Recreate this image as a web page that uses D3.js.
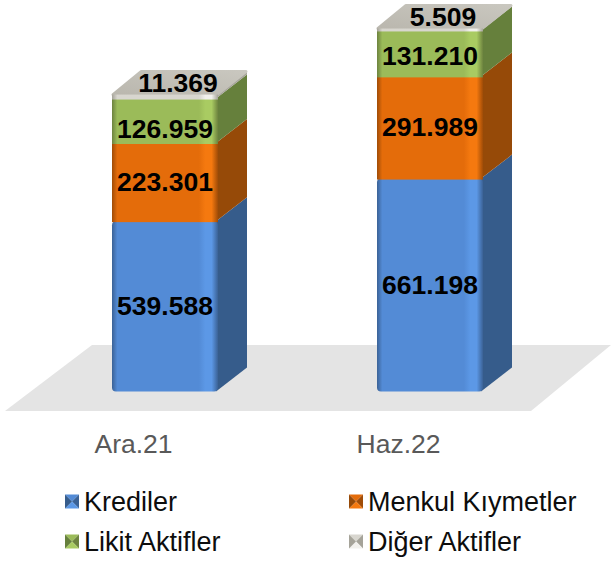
<!DOCTYPE html>
<html>
<head>
<meta charset="utf-8">
<script src="https://cdnjs.cloudflare.com/ajax/libs/d3/7.8.5/d3.min.js"></script>
<style>
  html, body { margin: 0; padding: 0; background: #fff; }
  text { font-family: "Liberation Sans", Arial, sans-serif; }
</style>
</head>
<body>
<svg id="chart" width="611" height="563" style="display:block"></svg>
<script>
const categories = ["Ara.21", "Haz.22"];
const seriesNames = ["Krediler", "Menkul Kıymetler", "Likit Aktifler", "Diğer Aktifler"];
const krediler = [539588, 661198];
const menkul = [223301, 291989];
const likit = [126959, 131210];
const diger = [11369, 5509];
const seriesValues = [krediler, menkul, likit, diger];
const valueLabels = [
  ["539.588", "661.198"],
  ["223.301", "291.989"],
  ["126.959", "131.210"],
  ["11.369", "5.509"]
];
const legendRows = [[0, 1], [2, 3]];

// front, highlight, dark edge, side
const colors = [
  { front: "#538bd6", light: "#5c98e6", edge: "#3b6296", side: "#365c8b" },
  { front: "#e46c0a", light: "#f5790f", edge: "#a04c07", side: "#964a08" },
  { front: "#9bbb59", light: "#a9cb62", edge: "#6d833f", side: "#66803c" },
  { front: "#d8d6cf", light: "#f2f1ed", edge: "#a5a399", side: "#a5a399" }
];

const depthX = 29, depthY = 24;
const barBottom = 391.5;

const svg = d3.select("#chart");
const defs = svg.append("defs");

const x = d3.scaleBand().domain(categories).range([112, 483]).paddingInner(0.6);
const y = d3.scaleLinear().domain([0, 1000000]).range([410, 60]);

colors.forEach((c, i) => {
  const g = defs.append("linearGradient").attr("id", "front" + i);
  [[0, c.edge], [0.05, c.front], [0.82, c.front], [0.88, c.light], [0.94, c.light], [1, c.edge]].forEach(s => {
    g.append("stop").attr("offset", s[0]).attr("stop-color", s[1]);
  });
});

const topGrad = defs.append("linearGradient").attr("id", "topFace")
  .attr("x1", 0).attr("y1", 1).attr("x2", 1).attr("y2", 0);
topGrad.append("stop").attr("offset", 0).attr("stop-color", "#bab7ae");
topGrad.append("stop").attr("offset", 1).attr("stop-color", "#c9c7bf");

// floor
svg.append("path")
  .attr("d", d3.line()([[92, 345], [611, 345], [531, 411], [5, 411]]) + "Z")
  .attr("fill", "#e4e4e4");

const line = d3.line();

categories.forEach((cat, i) => {
  const bar = svg.append("g");
  const x0 = x(cat), x1 = x0 + x.bandwidth();
  let sum = 0;
  const segs = seriesValues.map((vals, s) => {
    const seg = { s: s, low: sum, high: sum + vals[i] };
    sum += vals[i];
    seg.yBottom = Math.min(y(seg.low), barBottom);
    seg.yTop = y(seg.high);
    return seg;
  });

  // side faces
  segs.forEach(seg => {
    bar.append("path")
      .attr("d", line([
        [x1 - 2, seg.yBottom], [x1 - 2, seg.yTop],
        [x1 + depthX, seg.yTop - depthY], [x1 + depthX, seg.yBottom - depthY]
      ]) + "Z")
      .attr("fill", colors[seg.s].side);
  });

  // top face
  const yt = segs[3].yTop;
  bar.append("path")
    .attr("d", line([[x0 + 1, yt], [x0 + depthX, yt - depthY + 1], [x1 + depthX - 1, yt - depthY + 1], [x1 - 1, yt]]) + "Z")
    .attr("fill", "url(#topFace)")
    .attr("stroke", "url(#topFace)")
    .attr("stroke-width", 3)
    .attr("stroke-linejoin", "round");

  // front faces
  segs.forEach(seg => {
    bar.append("rect")
      .attr("x", x0)
      .attr("y", seg.yTop)
      .attr("width", x1 - x0)
      .attr("height", seg.yBottom - seg.yTop + (seg.s === 0 ? 0 : 1))
      .attr("rx", seg.s === 0 ? 4 : 0)
      .attr("fill", "url(#front" + seg.s + ")");
  });

  // value labels
  const greenNudge = i === 0 ? 8 : 3;
  segs.forEach(seg => {
    const isTop = seg.s === 3;
    const mid = (seg.yTop + seg.yBottom) / 2;
    svg.append("text")
      .attr("x", isTop ? (x0 + x1) / 2 + 13 : (x0 + x1) / 2)
      .attr("y", isTop ? yt - 12 : seg.s === 2 ? mid + greenNudge : mid)
      .attr("text-anchor", "middle")
      .attr("dominant-baseline", "central")
      .attr("font-size", 26.5)
      .attr("font-weight", "bold")
      .attr("fill", "#000")
      .text(valueLabels[seg.s][i]);
  });
});

// category axis
const axis = svg.append("g")
  .attr("transform", "translate(-31.5,434)")
  .call(d3.axisBottom(x).tickSize(0).tickPadding(0));
axis.select(".domain").remove();
axis.selectAll("text")
  .attr("font-size", 26.5)
  .attr("font-family", "Liberation Sans")
  .attr("fill", "#595959");

// legend
const legendX = [65, 349];
const legendY = [501.5, 541.5];
legendRows.forEach((row, r) => {
  row.forEach((s, c) => {
    const g = svg.append("g").attr("transform", `translate(${legendX[c]},${legendY[r]})`);
    const col = colors[s];
    const tri = [
      [[0, -7], [14, -7], [7, 0], col.front],
      [[14, -7], [14, 7], [7, 0], col.edge],
      [[14, 7], [0, 7], [7, 0], col.light],
      [[0, 7], [0, -7], [7, 0], col.side]
    ];
    tri.forEach(t => {
      g.append("path").attr("d", line(t.slice(0, 3)) + "Z").attr("fill", t[3]);
    });
    g.append("text")
      .attr("x", 19)
      .attr("y", 0)
      .attr("dominant-baseline", "central")
      .attr("font-size", 27)
      .attr("fill", "#0d0d0d")
      .text(seriesNames[s]);
  });
});
</script>
</body>
</html>
